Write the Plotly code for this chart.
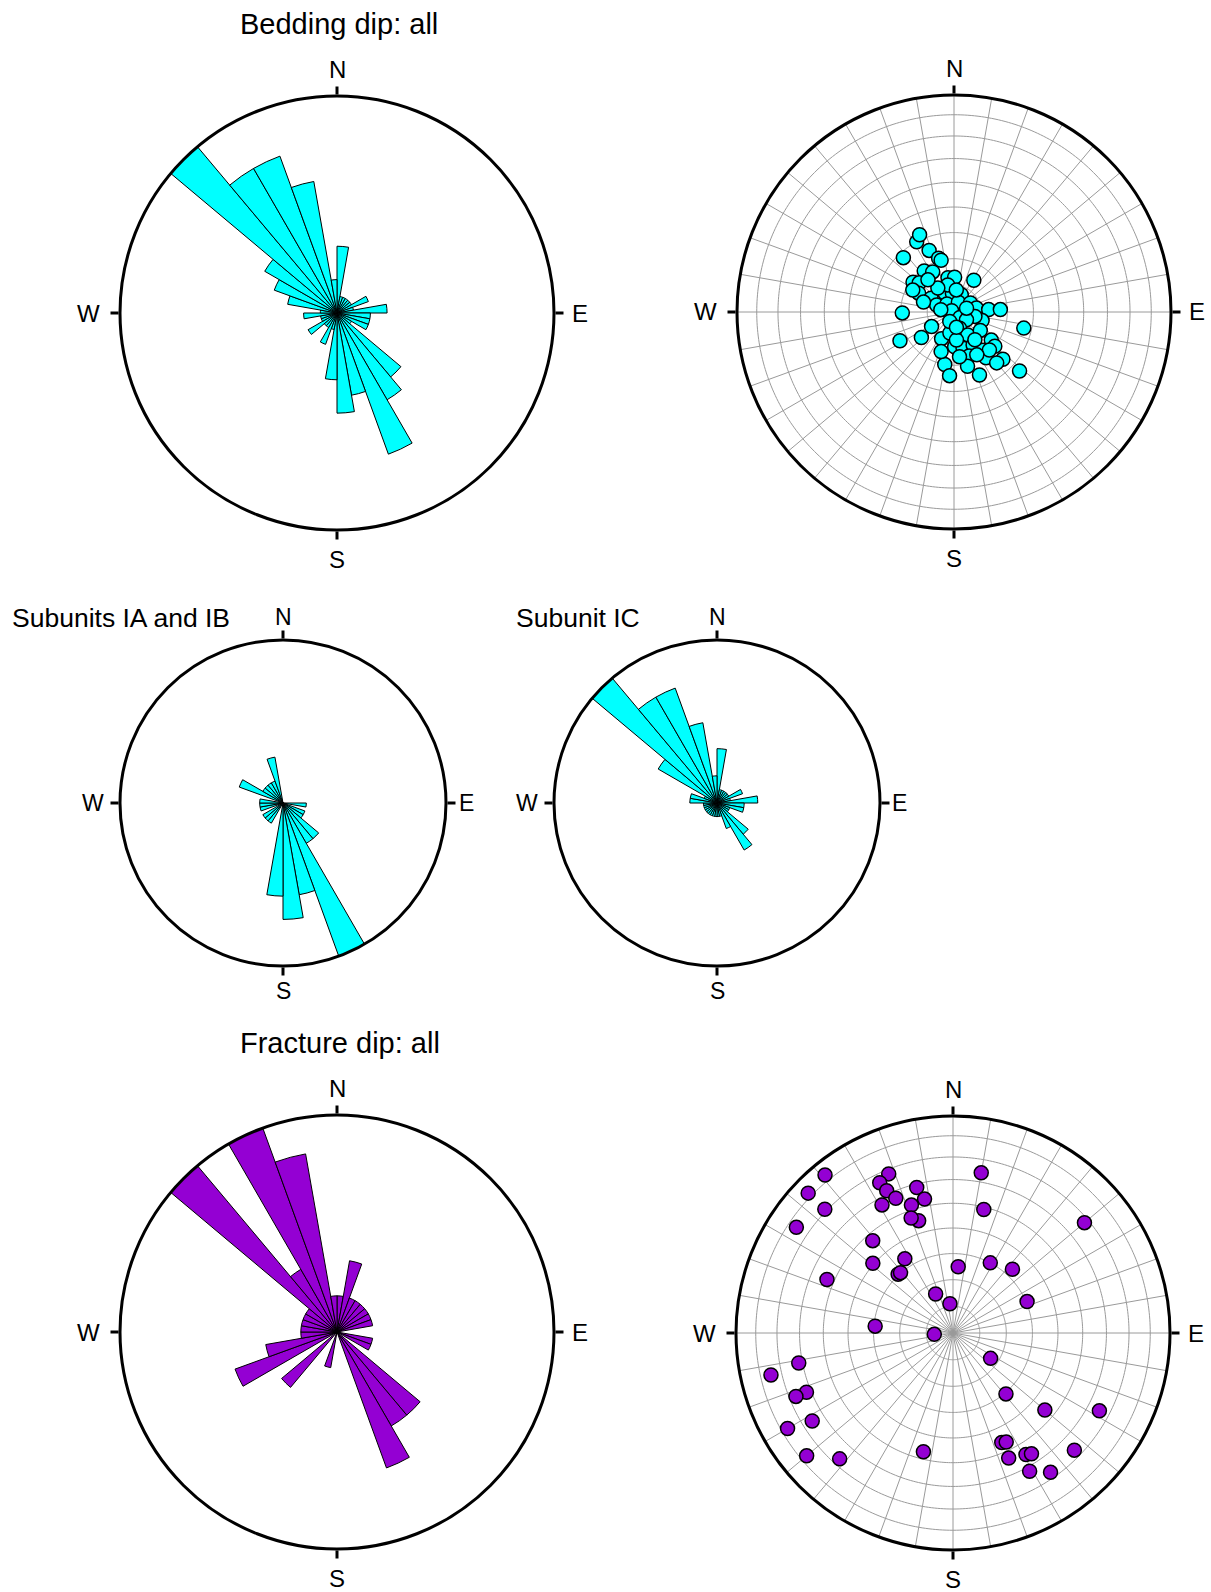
import numpy as np
import plotly.graph_objects as go

W, H = 1211, 1592
FONT = "Liberation Sans, Arial, Helvetica, sans-serif"

# ---- rose diagram data: counts per 10-degree azimuth bin (0-10, 10-20, ... 350-360)
bin_centers = list(range(5, 360, 10))

bedding_all_counts = [4, 1, 1, 1, 1, 1, 2, 1, 3, 2, 2, 2, 1, 5, 6, 9, 5, 6,
                      4, 1, 2, 1, 1, 2, 1, 1, 2, 1, 3, 4, 5, 13, 10, 10, 8, 2]
subunit_ia_ib_counts = [0, 0, 0, 0, 0, 0, 0, 0, 0, 1, 0, 1, 1, 2, 2, 7, 4, 5,
                        4, 0, 0, 1, 1, 1, 0, 1, 1, 1, 0, 2, 1, 1, 1, 1, 2, 0]
subunit_ic_counts = [4, 1, 1, 1, 1, 1, 2, 1, 3, 2, 2, 1, 1, 3, 4, 2, 1, 1,
                     1, 1, 1, 1, 1, 1, 1, 1, 1, 2, 2, 1, 5, 12, 9, 9, 6, 2]
fracture_all_counts = [1, 2, 1, 1, 1, 1, 1, 1, 0, 0, 1, 1, 0, 3, 3, 4, 0, 0,
                       0, 1, 0, 0, 2, 0, 3, 2, 1, 1, 1, 1, 1, 6, 2, 6, 5, 1]

# ---- stereonet data: poles as (azimuth deg, plunge deg)
bedding_pole_az = [332, 336, 338, 344, 346, 317, 328, 324, 306, 310, 350, 1, 32,
                   298, 301, 334, 355, 23, 292, 288, 319, 24, 61, 80, 86, 87,
                   269, 300, 280, 132, 107, 102, 122, 103, 161, 237, 232, 242,
                   205, 191, 149, 125, 127, 130, 179, 166, 150, 143, 161, 145,
                   134, 190, 184, 166, 158, 132, 140, 175, 198,
                   332, 347, 326, 6, 73, 204, 171, 143, 137, 152, 173, 321, 298]
bedding_pole_dip = [30, 32, 25, 21, 20, 28, 17, 19, 19, 17, 13, 13, 14,
                    15, 10, 8, 7, 7, 7, 12, 4, 4, 7, 8.5, 13, 17.4,
                    19.4, 1, 5, 3, 11, 8, 5.5, 27, 6.4, 10, 15.5, 23,
                    11, 8, 10, 12, 17.5, 20, 13, 14, 14.3, 18, 17.4, 21,
                    25.6, 20, 24, 21, 25.6, 33.4, 25, 10.5, 15.6,
                    17, 10.4, 10.8, 8.3, 4.9, 3.9, 5.8, 13, 19.5, 18.2, 16.9,
                    15.5, 17.5]

fracture_pole_az = [321, 314, 314, 304, 338, 334, 335, 337, 331, 346, 348, 342,
                    343, 340, 10, 14, 50, 319, 311, 327, 317, 319, 293, 4.5,
                    28, 43, 67, 336, 354, 275, 266, 259, 257, 248, 248, 238,
                    240, 230, 222, 194, 124, 139, 130, 118, 156, 154, 156,
                    149, 147, 134, 151, 145]
fracture_pole_dip = [83, 82, 71, 76, 68, 66, 61.5, 57, 57, 58.5, 53, 52,
                     45, 47, 64, 49, 68, 47, 40.5, 33.5, 30.4, 30.2, 53, 25,
                     30, 33, 30.4, 16, 11, 29.5, 7, 61.6, 75, 62, 67, 65.5,
                     77, 77, 67, 47, 17, 30.5, 46, 65.4, 46, 46.6, 53,
                     55, 56, 66.7, 62, 67.3]

CYAN = "#00FFFF"
PURPLE = "#9400D3"
GRID = "#9a9a9a"

# panel geometry in pixels: centre x, centre y, radius
PANELS = {
    "polar": (337, 313, 217),
    "polar2": (954, 312, 217),
    "polar3": (283, 803, 163),
    "polar4": (717, 803, 163),
    "polar5": (337, 1332, 217),
    "polar6": (953, 1333, 217),
}


def domain(cx, cy, r):
    return dict(x=[(cx - r) / W, (cx + r) / W],
                y=[1 - (cy + r) / H, 1 - (cy - r) / H])


def polar_layout(name, rmax):
    cx, cy, r = PANELS[name]
    return dict(
        domain=domain(cx, cy, r),
        bgcolor="white",
        radialaxis=dict(visible=False, range=[0, rmax]),
        angularaxis=dict(
            rotation=90, direction="clockwise",
            tickmode="array", tickvals=[0, 90, 180, 270],
            showticklabels=False,
            ticks="outside", ticklen=8, tickwidth=3, tickcolor="black",
            showline=True, linewidth=3, linecolor="black",
            showgrid=False,
        ),
    )


def compass_labels(name):
    cx, cy, r = PANELS[name]
    if r > 200:
        size, off = 24, dict(N=27, S=29, W=32, E=26)
    else:
        size, off = 23, dict(N=23, S=25, W=27, E=20)
    pos = dict(N=(cx, cy - r - off["N"]), S=(cx, cy + r + off["S"]),
               W=(cx - r - off["W"], cy), E=(cx + r + off["E"], cy))
    out = []
    for lab, (x, y) in pos.items():
        out.append(dict(text=lab, x=x / W, y=1 - y / H, xref="paper",
                        yref="paper", showarrow=False, xanchor="center",
                        yanchor="middle",
                        font=dict(family=FONT, size=size, color="black")))
    return out


def equal_area(dip):
    return np.sqrt(2) * np.sin(np.radians(np.asarray(dip, float)) / 2)


fig = go.Figure()

# rose diagrams
roses = [
    ("polar", bedding_all_counts, CYAN),
    ("polar3", subunit_ia_ib_counts, CYAN),
    ("polar4", subunit_ic_counts, CYAN),
    ("polar5", fracture_all_counts, PURPLE),
]
for sp, counts, col in roses:
    fig.add_trace(go.Barpolar(
        r=counts, theta=bin_centers, width=[10] * 36, subplot=sp,
        marker=dict(color=col, line=dict(color="black", width=1)),
        showlegend=False, hoverinfo="skip"))

# stereonet grids (equal-area, 10-degree spacing)
grid_dips = list(range(10, 90, 10))
grid_az = list(range(0, 360, 10))
circle_theta = np.linspace(0, 360, 361)
for sp in ("polar2", "polar6"):
    rr, tt = [], []
    for d in grid_dips:
        rr += list(np.full(circle_theta.size, equal_area(d))) + [None]
        tt += list(circle_theta) + [None]
    for a in grid_az:
        rr += [0, 1, None]
        tt += [a, a, None]
    fig.add_trace(go.Scatterpolar(
        r=rr, theta=tt, mode="lines", subplot=sp,
        line=dict(color=GRID, width=1), showlegend=False, hoverinfo="skip"))

fig.add_trace(go.Scatterpolar(
    r=equal_area(bedding_pole_dip), theta=bedding_pole_az, mode="markers",
    subplot="polar2",
    marker=dict(size=14, color=CYAN, line=dict(color="black", width=1.5)),
    showlegend=False))
fig.add_trace(go.Scatterpolar(
    r=equal_area(fracture_pole_dip), theta=fracture_pole_az, mode="markers",
    subplot="polar6",
    marker=dict(size=14, color=PURPLE, line=dict(color="black", width=1.5)),
    showlegend=False))

annotations = [
    dict(text="Bedding dip: all", x=339 / W, y=1 - 24 / H, xref="paper",
         yref="paper", showarrow=False, xanchor="center", yanchor="middle",
         font=dict(family=FONT, size=29, color="black")),
    dict(text="Subunits IA and IB", x=10 / W, y=1 - 618 / H, xref="paper",
         yref="paper", showarrow=False, xanchor="left", yanchor="middle",
         font=dict(family=FONT, size=26.5, color="black")),
    dict(text="Subunit IC", x=514 / W, y=1 - 618 / H, xref="paper",
         yref="paper", showarrow=False, xanchor="left", yanchor="middle",
         font=dict(family=FONT, size=26.5, color="black")),
    dict(text="Fracture dip: all", x=340 / W, y=1 - 1043 / H, xref="paper",
         yref="paper", showarrow=False, xanchor="center", yanchor="middle",
         font=dict(family=FONT, size=29, color="black")),
]
for name in PANELS:
    annotations += compass_labels(name)

fig.update_layout(
    width=W, height=H,
    margin=dict(l=0, r=0, t=0, b=0),
    paper_bgcolor="white",
    showlegend=False,
    polar=polar_layout("polar", max(bedding_all_counts)),
    polar2=polar_layout("polar2", 1),
    polar3=polar_layout("polar3", max(subunit_ia_ib_counts)),
    polar4=polar_layout("polar4", max(subunit_ic_counts)),
    polar5=polar_layout("polar5", max(fracture_all_counts)),
    polar6=polar_layout("polar6", 1),
    annotations=annotations,
)

fig.write_html("out.html")
